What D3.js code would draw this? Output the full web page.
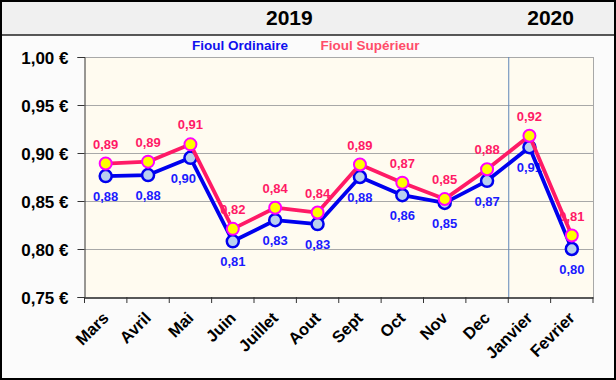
<!DOCTYPE html>
<html><head><meta charset="utf-8">
<script src="https://cdn.jsdelivr.net/npm/d3@7"></script>
<style>body{margin:0;background:#fff}svg{display:block}</style>
</head><body>
<script>
const months = ["Mars","Avril","Mai","Juin","Juillet","Aout","Sept","Oct","Nov","Dec","Janvier","Fevrier"];
const ordinaire = [0.876,0.877,0.895,0.808,0.830,0.826,0.875,0.856,0.848,0.871,0.906,0.800];
const superieur = [0.889,0.891,0.909,0.821,0.843,0.838,0.888,0.869,0.852,0.883,0.918,0.814];
const yTicks = [0.75,0.80,0.85,0.90,0.95,1.00];
const years = [{label:"2019", from:0, to:10},{label:"2020", from:10, to:12}];
const seriesNames = ["Fioul Ordinaire","Fioul Supérieur"];

const W=616,H=380;
const svg=d3.select("body").append("svg").attr("width",W).attr("height",H);
const font="'Liberation Sans', Arial, sans-serif";

svg.append("rect").attr("x",0).attr("y",0).attr("width",W).attr("height",H).attr("fill","#fbfbfb");
svg.append("rect").attr("x",0).attr("y",0).attr("width",W).attr("height",35).attr("fill","#f0f0f0");
svg.append("line").attr("x1",0).attr("x2",W).attr("y1",35).attr("y2",35).attr("stroke","#222").attr("stroke-width",1.5);

const x=d3.scaleBand().domain(months).range([84.5,593]);
const y=d3.scaleLinear().domain([0.75,1.00]).range([297,57]);

// plot area
svg.append("rect").attr("x",84.5).attr("y",57).attr("width",593-84.5).attr("height",240).attr("fill","#fffbf0");

// gridlines
svg.append("g").selectAll("line").data(yTicks.filter(d=>d>0.75)).join("line")
 .attr("x1",84.5).attr("x2",593).attr("y1",d=>Math.round(y(d))+0.5).attr("y2",d=>Math.round(y(d))+0.5)
 .attr("stroke","#a8a8a8").attr("stroke-width",1);
svg.append("line").attr("x1",593.5).attr("x2",593.5).attr("y1",57).attr("y2",297).attr("stroke","#a8a8a8");

// year separator
const sepX = x(months[10]);
svg.append("line").attr("x1",sepX+0.5).attr("x2",sepX+0.5).attr("y1",57).attr("y2",297).attr("stroke","#5f86b8").attr("stroke-width",1);

// y axis
const yAxis=d3.axisLeft(y).tickValues(yTicks).tickSize(7).tickPadding(9)
  .tickFormat(d=>d3.format(".2f")(d).replace(".",",")+" €");
const gy=svg.append("g").attr("transform","translate(84.5,0)").call(yAxis);
gy.select(".domain").attr("stroke","#333");
gy.selectAll(".tick line").attr("stroke","#333");
gy.selectAll("text").attr("font-family",font).attr("font-weight","bold").attr("font-size",17).attr("fill","#000").attr("dy","0.36em");

// x axis
const xAxis=d3.axisBottom(x).tickSize(0).tickFormat("");
const gx=svg.append("g").attr("transform","translate(0,297.5)").call(xAxis);
gx.select(".domain").attr("stroke","#222").attr("stroke-width",1.5);
const tickPos=months.map(m=>x(m)).concat([x.range()[1]]);
svg.append("g").selectAll("line").data(tickPos).join("line")
 .attr("x1",d=>d).attr("x2",d=>d).attr("y1",297).attr("y2",303).attr("stroke","#333");
svg.append("g").selectAll("text").data(months).join("text")
 .attr("transform",m=>`translate(${x(m)+x.bandwidth()/2+4},${319}) rotate(-45)`)
 .attr("text-anchor","end").attr("font-family",font).attr("font-weight","bold").attr("font-size",16.5).attr("fill","#000")
 .text(d=>d);

// years header
svg.append("g").selectAll("text").data(years).join("text")
 .attr("x",d=>(x(months[d.from])+ (d.to<months.length? x(months[d.to]) : x.range()[1]))/2 + (d.from===0?-7:0))
 .attr("y",25).attr("text-anchor","middle").attr("font-family",font).attr("font-weight","bold").attr("font-size",21).attr("fill","#000")
 .text(d=>d.label);

// legend
svg.append("text").attr("x",240).attr("y",50).attr("text-anchor","middle").attr("font-family",font).attr("font-weight","bold").attr("font-size",13.5).attr("fill","#1010ee").text(seriesNames[0]);
svg.append("text").attr("x",370).attr("y",50).attr("text-anchor","middle").attr("font-family",font).attr("font-weight","bold").attr("font-size",13.5).attr("fill","#ff4d6a").text(seriesNames[1]);

const cx=i=>x(months[i])+x.bandwidth()/2;
const fmt=v=>d3.format(".2f")(v).replace(".",",");

// labels first (lines drawn over them)
svg.append("g").selectAll("text").data(ordinaire).join("text")
 .attr("x",(d,i)=>cx(i) - (i===2?7:0)).attr("y",d=>y(d)+25).attr("text-anchor","middle")
 .attr("font-family",font).attr("font-weight","bold").attr("font-size",13).attr("fill","#1a1aff").text(fmt);
svg.append("g").selectAll("text").data(superieur).join("text")
 .attr("x",(d,i)=>cx(i)).attr("y",d=>y(d)-15).attr("text-anchor","middle")
 .attr("font-family",font).attr("font-weight","bold").attr("font-size",13).attr("fill","#ff1a66").text(fmt);

const line=d3.line().x((d,i)=>cx(i)).y(d=>y(d));
svg.append("path").datum(ordinaire).attr("d",line).attr("fill","none").attr("stroke","#0000ee").attr("stroke-width",3.8).attr("stroke-linejoin","round");
svg.append("g").selectAll("circle").data(ordinaire).join("circle")
 .attr("cx",(d,i)=>cx(i)).attr("cy",d=>y(d)).attr("r",6).attr("fill","#b9d0ee").attr("stroke","#0000ee").attr("stroke-width",2.5);
svg.append("path").datum(superieur).attr("d",line).attr("fill","none").attr("stroke","#ff1a66").attr("stroke-width",3.8).attr("stroke-linejoin","round");
svg.append("g").selectAll("circle").data(superieur).join("circle")
 .attr("cx",(d,i)=>cx(i)).attr("cy",d=>y(d)).attr("r",6).attr("fill","#ffff00").attr("stroke","#ff00ff").attr("stroke-width",2);

// outer border
svg.append("rect").attr("x",1).attr("y",1).attr("width",W-2).attr("height",H-2).attr("fill","none").attr("stroke","#000").attr("stroke-width",2);
</script>
</body></html>
